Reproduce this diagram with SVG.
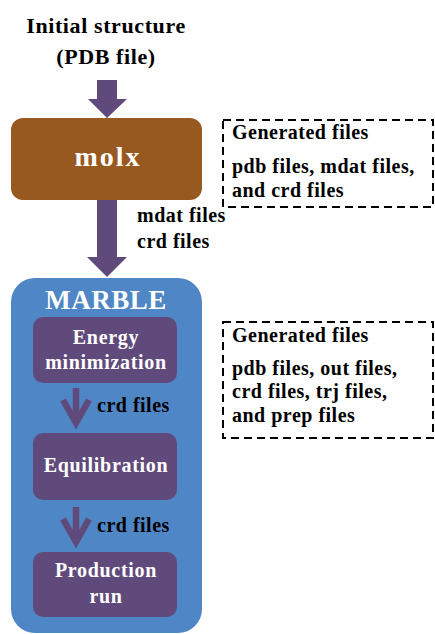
<svg xmlns="http://www.w3.org/2000/svg" width="435" height="634" viewBox="0 0 435 634">
<style>
text{font-family:'Liberation Serif','Times New Roman','DejaVu Serif',serif;font-weight:bold;}
.lbl{font-size:20px;letter-spacing:0.5px;fill:#000;}
.w{fill:#fff;text-anchor:middle;font-size:20px;letter-spacing:0.7px;}
.step{fill:#604A7B;}
.dash{fill:none;stroke:#000;stroke-width:2;stroke-dasharray:8 5;}
.arr{fill:#604A7B;}
.small{fill:none;stroke:#604A7B;stroke-width:6.5;stroke-linejoin:miter;}
</style>
<rect width="435" height="634" fill="#fff"/>
<g id="title">
<text x="106" y="33" font-size="22" text-anchor="middle" letter-spacing="0.6">Initial structure</text>
<text x="106" y="64" font-size="22" text-anchor="middle" letter-spacing="0.6">(PDB file)</text>
</g>
<g id="connectors">
<polygon class="arr" points="97,80 117,80 117,99 127,99 107,118 88,99 97,99"/>
<polygon class="arr" points="97,200 117,200 117,257 127,257 107,277 87,257 97,257"/>
<text class="lbl" x="137" y="222">mdat files</text>
<text class="lbl" x="137" y="248">crd files</text>
</g>
<g id="molx">
<rect x="11" y="118" width="191" height="82" rx="12" fill="#97591F"/>
<text x="108" y="166" font-size="28" letter-spacing="2" fill="#fff" text-anchor="middle">molx</text>
</g>
<g id="marble">
<rect x="11" y="278" width="191" height="355" rx="24" fill="#4F86C6"/>
<text x="106" y="309" font-size="27" letter-spacing="0.5" fill="#fff" text-anchor="middle">MARBLE</text>
</g>
<g id="energy">
<rect class="step" x="33" y="317" width="144" height="66" rx="10"/>
<text class="w" x="106" y="344">Energy</text>
<text class="w" x="106" y="369">minimization</text>
</g>
<g id="equilibration">
<rect class="step" x="33" y="433" width="144" height="67" rx="10"/>
<text class="w" x="106" y="472">Equilibration</text>
</g>
<g id="production">
<rect class="step" x="33" y="552" width="144" height="65" rx="10"/>
<text class="w" x="106" y="577">Production</text>
<text class="w" x="106" y="603">run</text>
</g>
<g id="inner-connectors">
<path class="small" d="M76,388 V420"/>
<path class="small" d="M63,400 L76,423 L89,400"/>
<text class="lbl" x="97" y="412">crd files</text>
<path class="small" d="M76,507 V540"/>
<path class="small" d="M63,519 L76,542 L89,519"/>
<text class="lbl" x="97" y="532">crd files</text>
</g>
<g id="gen1">
<rect class="dash" x="223" y="120" width="210" height="87"/>
<text class="lbl" x="232" y="139">Generated files</text>
<text class="lbl" x="232" y="173">pdb files, mdat files,</text>
<text class="lbl" x="232" y="197">and crd files</text>
</g>
<g id="gen2">
<rect class="dash" x="223" y="322" width="210" height="116"/>
<text class="lbl" x="232" y="342">Generated files</text>
<text class="lbl" x="232" y="375">pdb files, out files,</text>
<text class="lbl" x="232" y="398">crd files, trj files,</text>
<text class="lbl" x="232" y="422">and prep files</text>
</g>
</svg>
